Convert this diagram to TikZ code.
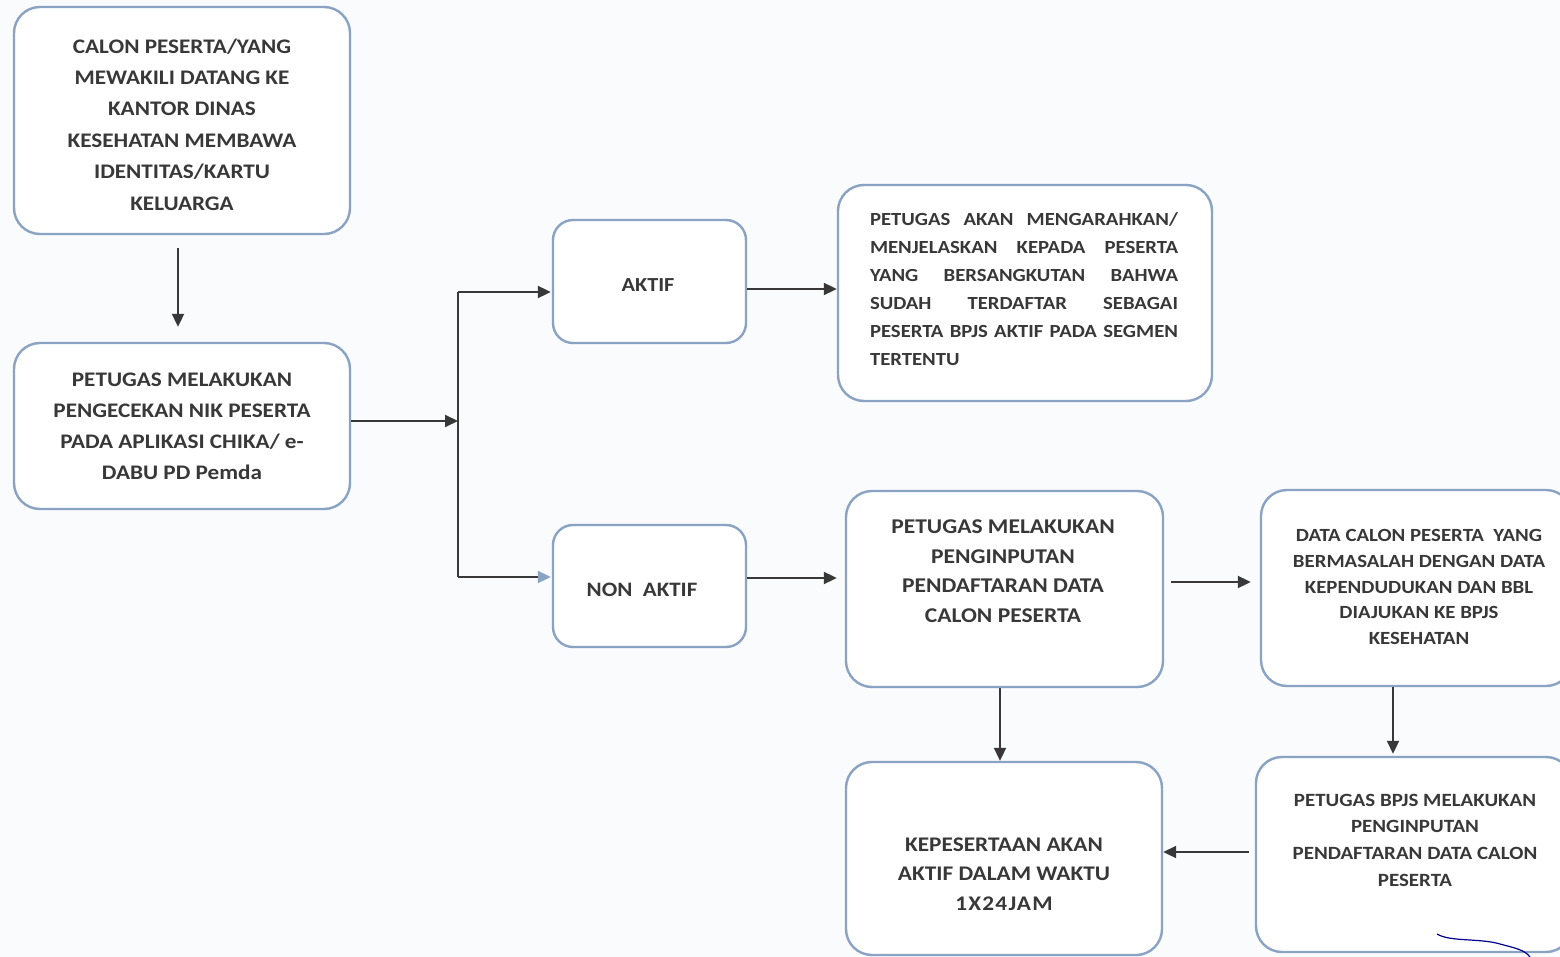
\documentclass[tikz,border=0pt]{standalone}
\usepackage{fontspec}
\setmainfont{Carlito}[FakeStretch=1.12]
\usetikzlibrary{arrows.meta}
\definecolor{boxline}{HTML}{8AA3C2}
\definecolor{ink}{HTML}{383838}
\definecolor{bg}{HTML}{F9FBFD}
\hyphenpenalty=10000
\exhyphenpenalty=10000
\newcommand{\jline}[1]{\makebox[308pt][l]{#1}}
\begin{document}
\begin{tikzpicture}[x=1pt,y=-1pt,
  box/.style={draw=boxline,line width=2.4pt,rounded corners=26pt,fill=white,inner sep=0pt},
  txt/.style={text=ink,font=\bfseries,align=center,inner sep=0pt},
  arr/.style={draw=ink,line width=2pt,-{Triangle[length=13pt,width=12pt]}},
  ln/.style={draw=ink,line width=2pt}]
\fill[bg] (0,0) rectangle (1560,957);
\useasboundingbox (0,0) rectangle (1560,957);
\begin{scope}
\clip (0,0) rectangle (1560,957);
% boxes
\node[box,minimum width=336pt,minimum height=227pt] (b1) at (182,120.5) {};
\node[box,minimum width=336pt,minimum height=166pt] (b2) at (182,426) {};
\node[box,rounded corners=20pt,minimum width=193pt,minimum height=123pt] (akt) at (649.5,281.5) {};
\node[box,minimum width=374pt,minimum height=216pt] (info) at (1025,293) {};
\node[box,rounded corners=20pt,minimum width=193pt,minimum height=122pt] (non) at (649.5,586) {};
\node[box,minimum width=317pt,minimum height=196pt] (peng) at (1004.5,589) {};
\node[box,minimum width=311pt,minimum height=196pt] (data) at (1416.5,588) {};
\node[box,minimum width=316pt,minimum height=195pt] (bpjs) at (1414,854.5) {};
\node[box,minimum width=316pt,minimum height=193pt] (kep) at (1004,858.5) {};
% texts
\node[txt,font=\bfseries\fontsize{20.7}{31.4}\selectfont] (t1) at (182,124.5) {CALON PESERTA/YANG\\MEWAKILI DATANG KE\\KANTOR DINAS\\KESEHATAN MEMBAWA\\IDENTITAS/KARTU\\KELUARGA};
\node[txt,font=\bfseries\fontsize{20.7}{31}\selectfont] (t2) at (182,426) {PETUGAS MELAKUKAN\\PENGECEKAN NIK PESERTA\\PADA APLIKASI CHIKA/ e-\\DABU PD Pemda};
\node[txt,font=\bfseries\fontsize{19.9}{28}\selectfont] (t3) at (648,285) {AKTIF};
\node[txt,align=left,text width=308pt,font=\bfseries\fontsize{18.5}{28}\selectfont] (t4) at (1024,289.5) {\jline{PETUGAS\hfill AKAN\hfill MENGARAHKAN/}\\\jline{MENJELASKAN\hfill KEPADA\hfill PESERTA}\\\jline{YANG\hfill BERSANGKUTAN\hfill BAHWA}\\\jline{SUDAH\hfill TERDAFTAR\hfill SEBAGAI}\\\jline{PESERTA\hfill BPJS\hfill AKTIF\hfill PADA\hfill SEGMEN}\\TERTENTU};
\node[txt,font=\bfseries\fontsize{20.5}{28}\selectfont] (t5) at (642,590) {NON\ \ AKTIF};
\node[txt,font=\bfseries\fontsize{21}{29.5}\selectfont] (t6) at (1003,571) {PETUGAS MELAKUKAN\\PENGINPUTAN\\PENDAFTARAN DATA\\CALON PESERTA};
\node[txt,font=\bfseries\fontsize{18.6}{25.7}\selectfont] (t7) at (1419,587) {DATA CALON PESERTA\ \ YANG\\BERMASALAH DENGAN DATA\\KEPENDUDUKAN DAN BBL\\DIAJUKAN KE BPJS\\KESEHATAN};
\node[txt,font=\bfseries\fontsize{18.7}{26.7}\selectfont] (t8) at (1415,840) {PETUGAS BPJS MELAKUKAN\\PENGINPUTAN\\PENDAFTARAN DATA CALON\\PESERTA};
\node[txt,font=\bfseries\fontsize{20.8}{29.5}\selectfont] (t9) at (1004,874) {KEPESERTAAN AKAN\\AKTIF DALAM WAKTU\\{\addfontfeature{LetterSpace=6}1X24JAM}};
% helper coordinates
\coordinate (jtop) at (458,292);
\coordinate (jmid) at (458,421);
\coordinate (jbot) at (458,577);
\coordinate (y289) at (0,289);
\coordinate (y578) at (0,578);
\coordinate (y582) at (0,582);
\coordinate (y852) at (0,852);
\coordinate (x178) at (178,0);
\coordinate (x1000) at (1000,0);
\coordinate (x1393) at (1393,0);
% connectors
\draw[arr,shorten <=13pt,shorten >=15pt] (b1.south -| x178) -- (b2.north -| x178);
\draw[arr] (b2.east |- jmid) -- (jmid);
\draw[ln] (jtop) -- (jbot);
\draw[arr,shorten >=1pt] (jtop) -- (akt.west |- jtop);
\draw[draw=ink,line width=2pt,-{Triangle[length=13pt,width=12pt,color=boxline,fill=boxline]},shorten >=1pt] (jbot) -- (non.west |- jbot);
\draw[arr] (akt.east |- y289) -- (info.west |- y289);
\draw[arr,shorten >=8pt] (non.east |- y578) -- (peng.west |- y578);
\draw[arr,shorten <=7pt,shorten >=9pt] (peng.east |- y582) -- (data.west |- y582);
\draw[arr,shorten >=2pt] (data.south -| x1393) -- (bpjs.north -| x1393);
\draw[arr,shorten <=6pt] (bpjs.west |- y852) -- (kep.east |- y852);
\draw[arr] (peng.south -| x1000) -- (kep.north -| x1000);
% pen scribble
\draw[draw=blue!55!black,line width=1.2pt] (1437,934) .. controls (1450,942) and (1480,938) .. (1500,944) .. controls (1515,948) and (1525,950) .. (1530,957);
\end{scope}
\end{tikzpicture}
\end{document}
